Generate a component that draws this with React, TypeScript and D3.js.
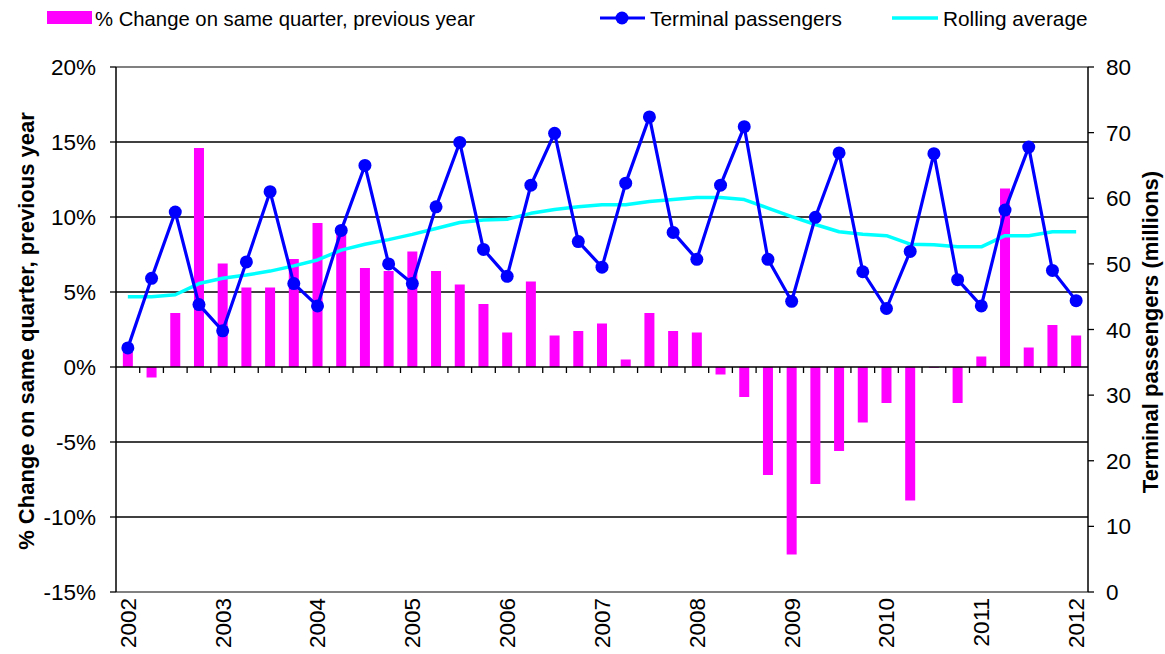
import React from "react";
import * as d3 from "d3";

// quarters 2002 Q1 .. 2012 Q1
const quarters = d3.range(41);
const yearLabels = ["2002", "2003", "2004", "2005", "2006", "2007", "2008", "2009", "2010", "2011", "2012"];

// % change on same quarter, previous year
const pctChange = [
  1.0, -0.7, 3.6, 14.6, 6.9, 5.3, 5.3, 7.2, 9.6, 9.4,
  6.6, 6.4, 7.7, 6.4, 5.5, 4.2, 2.3, 5.7, 2.1, 2.4,
  2.9, 0.5, 3.6, 2.4, 2.3, -0.5, -2.0, -7.2, -12.5, -7.8,
  -5.6, -3.7, -2.4, -8.9, -0.05, -2.4, 0.7, 11.9, 1.3, 2.8,
  2.1,
];

// terminal passengers (millions)
const passengers = [
  37.2, 47.8, 57.9, 43.8, 39.8, 50.3, 61.0, 47.0, 43.6, 55.1,
  65.0, 50.0, 47.0, 58.7, 68.5, 52.2, 48.1, 62.0, 69.9, 53.4,
  49.5, 62.3, 72.4, 54.8, 50.7, 62.0, 70.9, 50.7, 44.3, 57.1,
  66.9, 48.8, 43.2, 51.9, 66.8, 47.6, 43.6, 58.2, 67.8, 49.0,
  44.4,
];

// rolling average (millions)
const rolling = [
  45.0, 45.0, 45.3, 47.0, 47.8, 48.3, 48.9, 49.7, 50.6, 52.1,
  53.0, 53.7, 54.5, 55.4, 56.3, 56.7, 56.8, 57.7, 58.3, 58.7,
  59.0, 59.0, 59.5, 59.8, 60.1, 60.1, 59.8, 58.5, 57.2, 56.0,
  54.9, 54.5, 54.3, 53.0, 52.9, 52.6, 52.6, 54.3, 54.3, 54.9,
  54.9,
];

const leftTicks = [-15, -10, -5, 0, 5, 10, 15, 20];
const rightTicks = [0, 10, 20, 30, 40, 50, 60, 70, 80];

const W = 1165;
const H = 654;
const left = 116;
const right = 1088;
const top = 67;
const bottom = 592;
const font = "Liberation Sans, Arial, sans-serif";

export default function App() {
  const x = d3.scaleBand<number>().domain(quarters).range([left, right]);
  const bw = x.bandwidth();
  const cx = (i: number) => (x(i) as number) + bw / 2;
  const yL = d3.scaleLinear().domain([-15, 20]).range([bottom, top]);
  const yR = d3.scaleLinear().domain([0, 80]).range([bottom, top]);
  const barW = 10;

  const line = d3
    .line<number>()
    .x((d, i) => cx(i))
    .y((d) => yR(d));

  return (
    <svg width={W} height={H} style={{ position: "absolute", left: 0, top: 0, background: "#fff" }}>
      {/* grid */}
      {leftTicks
        .filter((t) => t !== 0 && t !== 20 && t !== -15)
        .map((t) => (
          <line key={t} x1={left} x2={right} y1={yL(t)} y2={yL(t)} stroke="#000" strokeWidth={1.4} />
        ))}
      <line x1={left} x2={right} y1={yL(20)} y2={yL(20)} stroke="#808080" strokeWidth={2} />
      <line x1={left} x2={right} y1={yL(-15)} y2={yL(-15)} stroke="#808080" strokeWidth={2} />

      {/* bars */}
      {pctChange.map((v, i) => (
        <rect
          key={i}
          x={cx(i) - barW / 2}
          y={Math.min(yL(v), yL(0))}
          width={barW}
          height={Math.abs(yL(v) - yL(0))}
          fill="#ff00ff"
        />
      ))}

      {/* x axis at 0% */}
      <line x1={left} x2={right} y1={yL(0)} y2={yL(0)} stroke="#000" strokeWidth={1.5} />
      {d3.range(1, 41).map((i) => (
        <line key={i} x1={x(i)} x2={x(i)} y1={yL(0)} y2={yL(0) + 6} stroke="#000" strokeWidth={1.3} />
      ))}

      {/* left axis */}
      <line x1={left} x2={left} y1={top} y2={bottom} stroke="#000" strokeWidth={1.5} />
      {leftTicks.map((t) => (
        <g key={t}>
          <line x1={left - 6} x2={left} y1={yL(t)} y2={yL(t)} stroke="#000" strokeWidth={1.3} />
          <text x={96} y={yL(t) + 8} textAnchor="end" fontFamily={font} fontSize={22.5} fill="#000">
            {t + "%"}
          </text>
        </g>
      ))}

      {/* right axis */}
      <line x1={right} x2={right} y1={top} y2={bottom} stroke="#000" strokeWidth={1.5} />
      {rightTicks.map((t) => (
        <g key={t}>
          <line x1={right} x2={right + 6} y1={yR(t)} y2={yR(t)} stroke="#000" strokeWidth={1.3} />
          <text x={1106} y={yR(t) + 8} textAnchor="start" fontFamily={font} fontSize={22.5} fill="#000">
            {t}
          </text>
        </g>
      ))}

      {/* year labels */}
      {yearLabels.map((lab, k) => (
        <text
          key={lab}
          transform={`translate(${cx(k * 4)},598) rotate(-90)`}
          textAnchor="end"
          dy="0.35em"
          fontFamily={font}
          fontSize={22.5}
          fill="#000"
        >
          {lab}
        </text>
      ))}

      {/* lines */}
      <path d={line(rolling) ?? ""} fill="none" stroke="#00ffff" strokeWidth={3.5} strokeLinejoin="round" />
      <path d={line(passengers) ?? ""} fill="none" stroke="#0000ff" strokeWidth={3.2} strokeLinejoin="round" />
      {passengers.map((v, i) => (
        <circle key={i} cx={cx(i)} cy={yR(v)} r={6.5} fill="#0000ff" />
      ))}

      {/* axis titles */}
      <text
        transform="translate(34,331) rotate(-90)"
        textAnchor="middle"
        fontFamily={font}
        fontSize={22}
        fontWeight="bold"
        fill="#000"
      >
        % Change on same quarter, previous year
      </text>
      <text
        transform="translate(1158,332) rotate(-90)"
        textAnchor="middle"
        fontFamily={font}
        fontSize={22}
        fontWeight="bold"
        fill="#000"
      >
        Terminal passengers (millions)
      </text>

      {/* legend */}
      <rect x={47} y={11} width={45} height={13} fill="#ff00ff" />
      <text x={95} y={26} fontFamily={font} fontSize={20.3} fill="#000">
        % Change on same quarter, previous year
      </text>
      <line x1={600} x2={645} y1={18} y2={18} stroke="#0000ff" strokeWidth={3.2} />
      <circle cx={622} cy={18} r={6.5} fill="#0000ff" />
      <text x={650} y={26} fontFamily={font} fontSize={20.8} fill="#000">
        Terminal passengers
      </text>
      <line x1={892} x2={938} y1={18} y2={18} stroke="#00ffff" strokeWidth={3.5} />
      <text x={943} y={26} fontFamily={font} fontSize={20.8} fill="#000">
        Rolling average
      </text>
    </svg>
  );
}
